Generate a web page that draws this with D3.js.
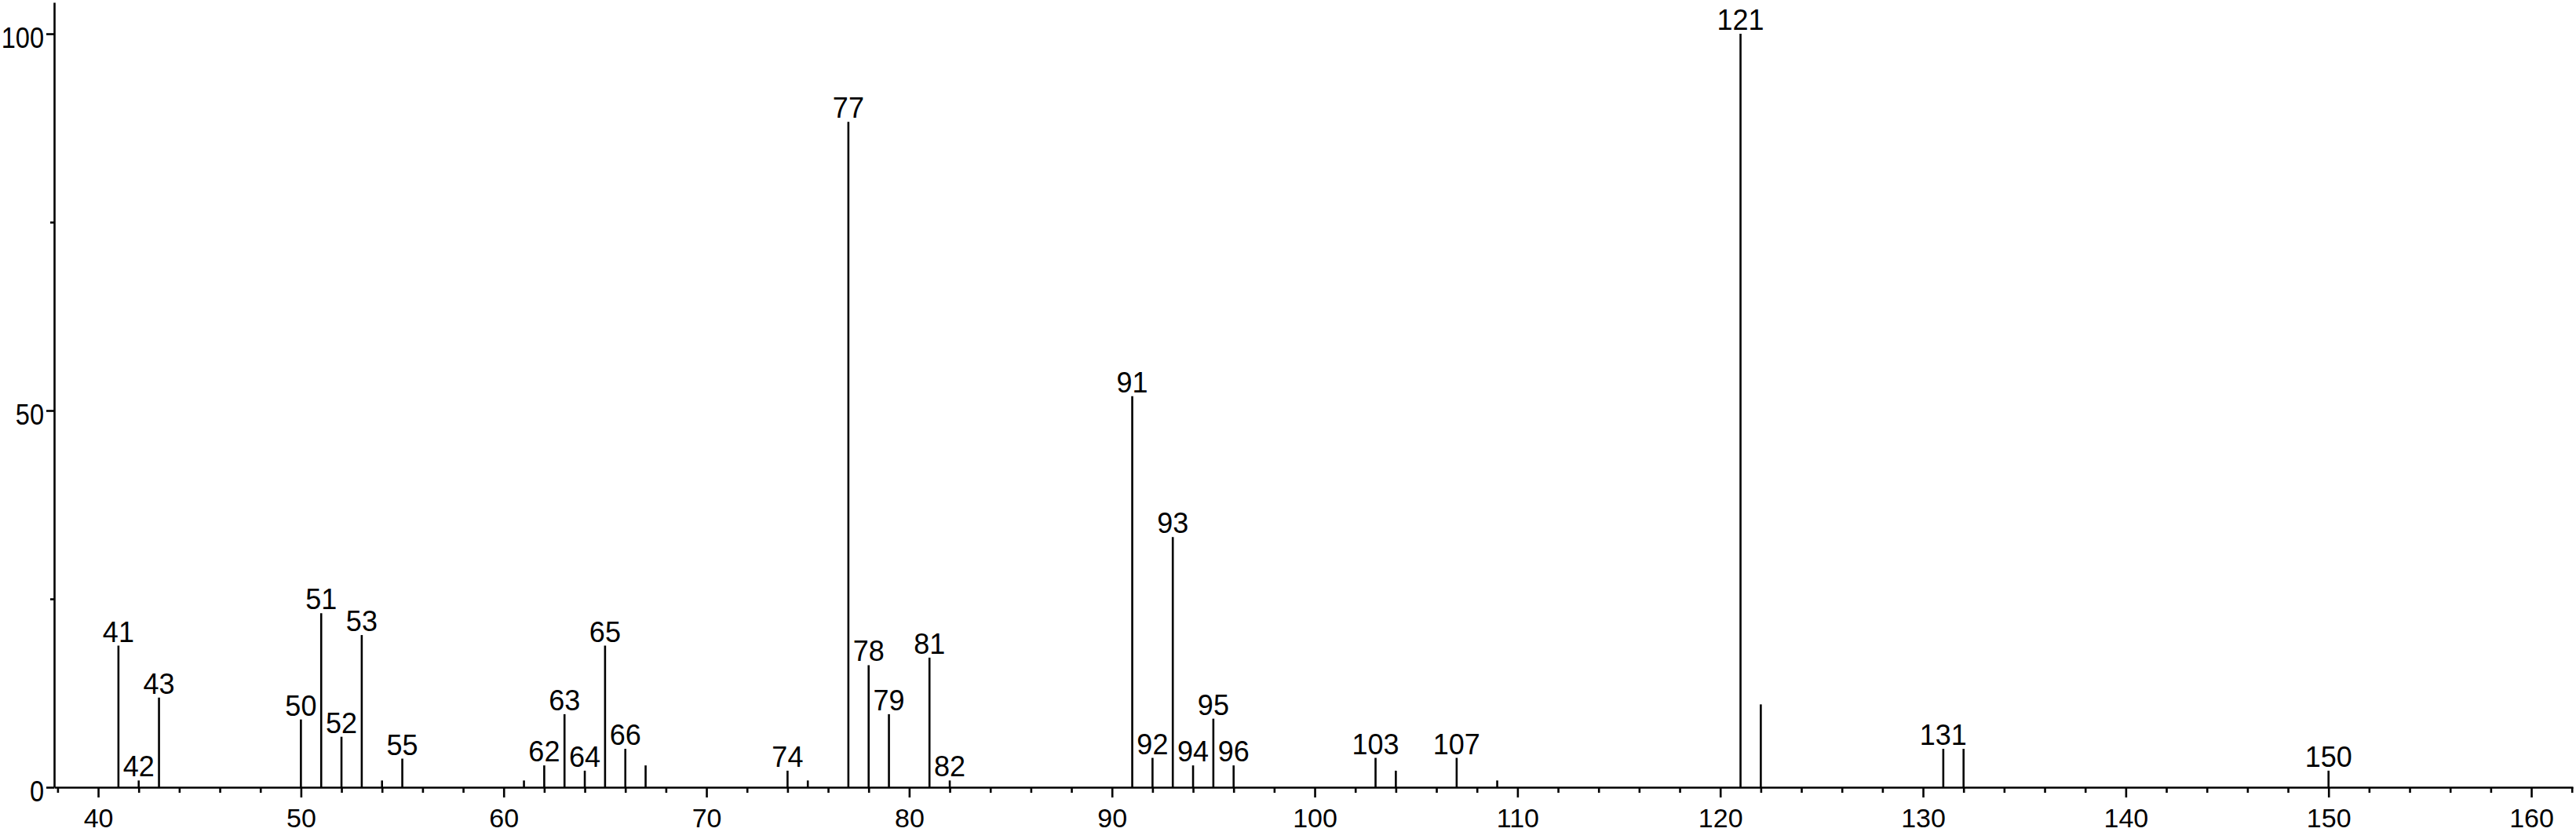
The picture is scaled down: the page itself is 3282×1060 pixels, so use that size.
<!DOCTYPE html>
<html>
<head>
<meta charset="utf-8">
<script src="https://cdn.jsdelivr.net/npm/d3@7"></script>
<style>
  html, body { margin: 0; padding: 0; background: #fff; }
  svg { display: block; }
  text { font-family: "Liberation Sans", Arial, Helvetica, sans-serif; fill: #000; }
</style>
</head>
<body>
<svg id="chart" width="3282" height="1060"></svg>
<script>
// m/z values of the peaks
const mz = [41, 42, 43, 50, 51, 52, 53, 54, 55, 61, 62, 63, 64, 65, 66, 67, 74, 75, 77, 78, 79, 81, 82,
            91, 92, 93, 94, 95, 96, 103, 104, 107, 109, 121, 122, 131, 132, 150];
// relative intensities (%)
const intensity = [18.8, 0.9, 11.9, 9.0, 23.1, 6.7, 20.2, 0.9, 3.8, 0.9, 2.9, 9.7, 2.2, 18.8, 5.1, 2.9, 2.2, 0.9, 88.3, 16.2, 9.7, 17.2, 0.9,
                   51.9, 3.9, 33.2, 2.9, 9.1, 2.9, 3.9, 2.2, 3.9, 0.9, 100, 11.0, 5.1, 5.1, 2.2];
// peaks carrying a label
const labelled = [41, 42, 43, 50, 51, 52, 53, 55, 62, 63, 64, 65, 66, 74, 77, 78, 79, 81, 82,
                  91, 92, 93, 94, 95, 96, 103, 107, 121, 131, 150];
// axis ticks
const xMajorTicks = [40, 50, 60, 70, 80, 90, 100, 110, 120, 130, 140, 150, 160];
const xMinorTicks = d3.range(38, 163, 2).filter(v => v % 10 !== 0);
const yMajorTicks = [0, 50, 100];
const yMinorTicks = [25, 75];
const xDomain = [37.83, 162.05];
const yDomain = [0, 104.17];

const peaks = mz.map((m, i) => ({ m, v: intensity[i], lab: labelled.includes(m) }));

const svg = d3.select("#chart");
const x = d3.scaleLinear().domain(xDomain).range([69, 3278]);
const y = d3.scaleLinear().domain(yDomain).range([1003, 3]);

const SW = 2.6;

// Peaks
svg.append("g").selectAll("line").data(peaks).join("line")
  .attr("x1", d => x(d.m)).attr("x2", d => x(d.m))
  .attr("y1", y(0)).attr("y2", d => y(d.v))
  .attr("stroke", "#000").attr("stroke-width", SW);

// Peak labels
svg.append("g").selectAll("text").data(peaks.filter(d => d.lab)).join("text")
  .attr("x", d => x(d.m)).attr("y", d => y(d.v) - 5)
  .attr("text-anchor", "middle")
  .style("font-size", "36px")
  .text(d => d.m);

// X axis minor ticks
const gxMinor = svg.append("g").attr("transform", `translate(0,${y(0)})`)
  .call(d3.axisBottom(x).tickValues(xMinorTicks).tickSize(7).tickSizeOuter(0).tickFormat(""));
gxMinor.select(".domain").remove();
gxMinor.selectAll("line").attr("stroke-width", SW);

// X axis major
const gx = svg.append("g").attr("transform", `translate(0,${y(0)})`)
  .call(d3.axisBottom(x).tickValues(xMajorTicks).tickSize(13).tickSizeOuter(0).tickFormat(d3.format("d")));
gx.select(".domain").attr("stroke-width", SW);
gx.selectAll("line").attr("stroke-width", SW);
gx.selectAll("text").attr("y", 51).attr("dy", 0).style("font-size", "34px").attr("fill", "#000");

// Y axis minor
const gyMinor = svg.append("g").attr("transform", `translate(${x(xDomain[0])},0)`)
  .call(d3.axisLeft(y).tickValues(yMinorTicks).tickSize(5).tickSizeOuter(0).tickFormat(""));
gyMinor.select(".domain").remove();
gyMinor.selectAll("line").attr("stroke-width", SW);

// Y axis major
const gy = svg.append("g").attr("transform", `translate(${x(xDomain[0])},0)`)
  .call(d3.axisLeft(y).tickValues(yMajorTicks).tickSize(10).tickPadding(4).tickSizeOuter(0).tickFormat(d3.format("d")));
gy.select(".domain").attr("stroke-width", SW);
gy.selectAll("line").attr("stroke-width", SW);
gy.selectAll("text")
  .attr("x", 0).attr("dy", 17)
  .attr("transform", "translate(-13,0) scale(0.88,1)")
  .style("font-size", "37px").attr("fill", "#000");

svg.selectAll(".domain, .tick line").attr("stroke", "#000");
svg.selectAll("g").attr("font-family", null).attr("font-size", null);
</script>
</body>
</html>
